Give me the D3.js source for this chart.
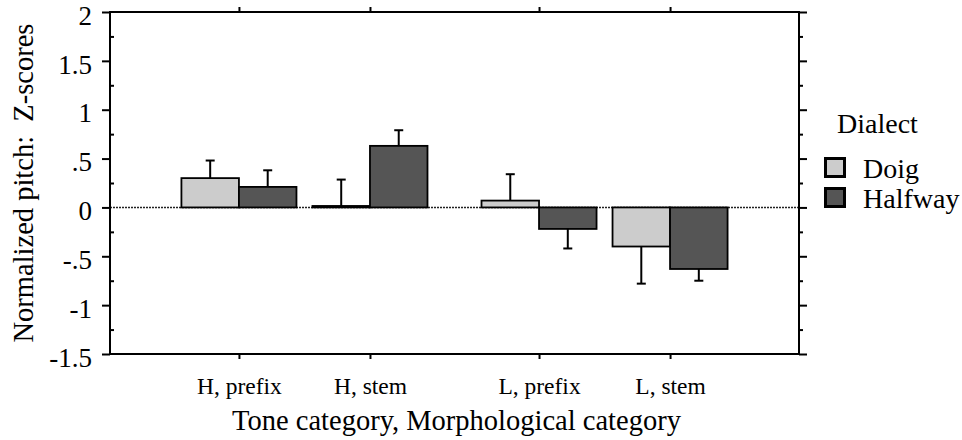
<!DOCTYPE html>
<html>
<head>
<meta charset="utf-8">
<script src="https://cdn.jsdelivr.net/npm/d3@7"></script>
<style>
  html, body { margin: 0; padding: 0; background: #fff; }
  svg, svg text { font-family: "Times New Roman", "Liberation Serif", Tinos, serif !important; }
</style>
</head>
<body>
<svg id="chart" width="962" height="440"></svg>
<script>
// Grouping levels on the x axis
const toneCategories = ["H", "L"];
const morphCategories = ["prefix", "stem"];
const dialects = ["Doig", "Halfway"];

// Mean normalized pitch (z-scores), one entry per tone/morph cell: H prefix, H stem, L prefix, L stem
const doigMeans = [0.30, 0.015, 0.07, -0.40];
const halfwayMeans = [0.21, 0.63, -0.22, -0.63];
// One-sided error bar lengths
const doigErrors = [0.18, 0.27, 0.27, 0.38];
const halfwayErrors = [0.17, 0.16, 0.20, 0.12];

// Y axis ticks
const yTickValues = [-1.5, -1, -0.5, 0, 0.5, 1, 1.5, 2];
const yTickLabels = ["-1.5", "-1", "-.5", "0", ".5", "1", "1.5", "2"];

const colors = { Doig: "#cccccc", Halfway: "#555555" };

const svg = d3.select("#chart");
const plotLeft = 110, plotRight = 799, plotTop = 12, plotBottom = 354;

const y = d3.scaleLinear().domain([-1.5, 2]).range([plotBottom, plotTop]);

const xTone = d3.scaleBand().domain(toneCategories).range([plotLeft, plotRight])
  .paddingInner(0.18).paddingOuter(0.238);
const xMorph = d3.scaleBand().domain(morphCategories).range([0, xTone.bandwidth()])
  .paddingInner(0.122).paddingOuter(0);
const xDialect = d3.scaleBand().domain(dialects).range([0, xMorph.bandwidth()]).padding(0);

// Flatten the cells
const cells = [];
toneCategories.forEach(t => morphCategories.forEach(m => cells.push({ tone: t, morph: m, label: `${t}, ${m}` })));
cells.forEach((c, i) => {
  c.x0 = xTone(c.tone) + xMorph(c.morph);
  c.values = [
    { dialect: "Doig", mean: doigMeans[i], err: doigErrors[i] },
    { dialect: "Halfway", mean: halfwayMeans[i], err: halfwayErrors[i] }
  ];
});

// Category positions as an ordinal scale for the axes
const xCat = d3.scaleOrdinal()
  .domain(cells.map(c => c.label))
  .range(cells.map(c => c.x0 + xMorph.bandwidth() / 2));

// Zero reference line
svg.append("line")
  .attr("x1", plotLeft).attr("x2", plotRight)
  .attr("y1", y(0)).attr("y2", y(0))
  .attr("stroke", "#222").attr("stroke-width", 1.5)
  .attr("stroke-dasharray", "2,1");

// Bars
const bars = cells.flatMap(c => c.values.map(v => ({ ...v, x: c.x0 + xDialect(v.dialect) })));
svg.append("g").selectAll("rect").data(bars).join("rect")
  .attr("x", d => d.x)
  .attr("width", xDialect.bandwidth())
  .attr("y", d => y(Math.max(0, d.mean)))
  .attr("height", d => Math.abs(y(d.mean) - y(0)))
  .attr("fill", d => colors[d.dialect])
  .attr("stroke", "#000").attr("stroke-width", 1.8);

// Error bars, drawn away from zero
const eg = svg.append("g").attr("stroke", "#000").attr("stroke-width", 2);
bars.forEach(d => {
  const cx = d.x + xDialect.bandwidth() / 2;
  const end = d.mean >= 0 ? d.mean + d.err : d.mean - d.err;
  eg.append("line").attr("x1", cx).attr("x2", cx).attr("y1", y(d.mean)).attr("y2", y(end));
  eg.append("line").attr("x1", cx - 4.5).attr("x2", cx + 4.5).attr("y1", y(end)).attr("y2", y(end));
});

// Axis ticks
const minorTicks = d3.range(-1.25, 2, 0.5);

const yLeft = svg.append("g").attr("transform", `translate(${plotLeft},0)`)
  .call(d3.axisLeft(y).tickValues(yTickValues).tickSize(8).tickPadding(10)
    .tickFormat((d, i) => yTickLabels[i]));
yLeft.select(".domain").remove();
yLeft.selectAll("line").attr("stroke", "#000").attr("stroke-width", 2);
yLeft.selectAll("text").style("font-size", "27px").attr("fill", "#000").attr("dy", "0.45em");

const yLeftMinor = svg.append("g").attr("transform", `translate(${plotLeft},0)`)
  .call(d3.axisLeft(y).tickValues(minorTicks).tickSize(-4).tickFormat(""));
yLeftMinor.select(".domain").remove();
yLeftMinor.selectAll("line").attr("stroke", "#000").attr("stroke-width", 2);

const yRight = svg.append("g").attr("transform", `translate(${plotRight},0)`)
  .call(d3.axisRight(y).tickValues(yTickValues).tickSize(8).tickFormat(""));
yRight.select(".domain").remove();
yRight.selectAll("line").attr("stroke", "#000").attr("stroke-width", 2);

const yRightMinor = svg.append("g").attr("transform", `translate(${plotRight},0)`)
  .call(d3.axisRight(y).tickValues(minorTicks).tickSize(4).tickFormat(""));
yRightMinor.select(".domain").remove();
yRightMinor.selectAll("line").attr("stroke", "#000").attr("stroke-width", 2);

const xBottom = svg.append("g").attr("transform", `translate(0,${plotBottom})`)
  .call(d3.axisBottom(xCat).tickSize(5).tickPadding(18));
xBottom.select(".domain").remove();
xBottom.selectAll("line").attr("stroke", "#000").attr("stroke-width", 2);
xBottom.selectAll("text").style("font-size", "23.5px").attr("fill", "#000");

const xTop = svg.append("g").attr("transform", `translate(0,${plotTop})`)
  .call(d3.axisTop(xCat).tickSize(5).tickFormat(""));
xTop.select(".domain").remove();
xTop.selectAll("line").attr("stroke", "#000").attr("stroke-width", 2);

// Plot frame
svg.append("rect")
  .attr("x", plotLeft).attr("y", plotTop)
  .attr("width", plotRight - plotLeft).attr("height", plotBottom - plotTop)
  .attr("fill", "none").attr("stroke", "#000").attr("stroke-width", 2);

// Axis titles
svg.append("text")
  .attr("x", (plotLeft + plotRight) / 2 + 2).attr("y", 430)
  .attr("text-anchor", "middle").style("font-size", "28.5px")
  .text("Tone category, Morphological category");

svg.append("text")
  .attr("transform", `translate(33,${(plotTop + plotBottom) / 2}) rotate(-90)`)
  .attr("text-anchor", "middle").style("font-size", "28.5px")
  .style("white-space", "pre")
  .text("Normalized pitch:  Z-scores");

// Legend
const legend = svg.append("g");
legend.append("text").attr("x", 837).attr("y", 133).style("font-size", "28px").text("Dialect");
dialects.forEach((d, i) => {
  const yy = 157 + i * 30;
  legend.append("rect").attr("x", 825.5).attr("y", yy + 1.5)
    .attr("width", 19).attr("height", 18)
    .attr("fill", colors[d]).attr("stroke", "#000").attr("stroke-width", 3);
  legend.append("text").attr("x", 863).attr("y", yy + 20.5).style("font-size", "28px").text(d);
});
</script>
</body>
</html>
